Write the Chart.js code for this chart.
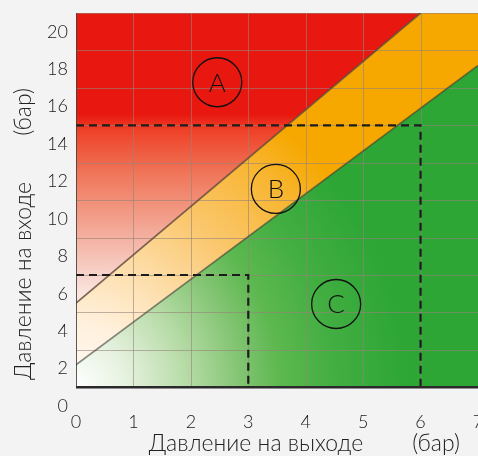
<!DOCTYPE html>
<html lang="ru">
<head>
<meta charset="UTF-8">
<title>Давление на входе / на выходе</title>
<script src="https://cdn.jsdelivr.net/npm/chart.js"></script>
<style>
    html, body {
        margin: 0;
        padding: 0;
        background: #f3f3f3;
        overflow: hidden;
    }
    /* canvas is a bit wider than the window so the "7" gets cut like in the scan */
    #wrap { width: 500px; height: 456px; }
    canvas { display: block; }
</style>
</head>
<body>
<div id="wrap"><canvas id="myChart" width="500" height="456"></canvas></div>
<script>
// axes
const xTicks = [0, 1, 2, 3, 4, 5, 6, 7];
const yTicks = [0, 2, 4, 6, 8, 10, 12, 14, 16, 18, 20];
const yGrid = [1, 3, 5, 7, 9, 11, 13, 15, 17, 19, 21];
const yBase = 1;
const yTop = 21;

// zone boundaries (outlet bar -> inlet bar)
const upperX = [0, 6];
const upperY = [5.5, 21];
const lowerX = [0, 7];
const lowerY = [2.2, 18.2];

// dashed guides
const guide1X = [0, 6, 6];
const guide1Y = [15, 15, 1];
const guide2X = [0, 3, 3];
const guide2Y = [7, 7, 1];

// zone markers
const zoneNames = ['A', 'B', 'C'];
const zoneX = [2.46, 3.48, 4.53];
const zoneY = [17.3, 11.6, 5.45];

const FONT = 'Lato, Roboto, "Liberation Sans", sans-serif';

function pts(xs, ys) {
    return xs.map((v, i) => ({ x: v, y: ys[i] }));
}

// white fade from the bottom-left corner
function fade(stops) {
    return function(context) {
        const chart = context.chart;
        if (!chart.chartArea) return stops[stops.length - 1][1];
        const sx = chart.scales.x, sy = chart.scales.y;
        const cx = sx.getPixelForValue(0);
        const cy = sy.getPixelForValue(yBase);
        const r = sx.getPixelForValue(5.75) - cx;
        const g = chart.ctx.createRadialGradient(cx, cy, 0, cx, cy, r);
        stops.forEach(s => g.addColorStop(s[0], s[1]));
        return g;
    };
}

// red zone fades downwards rather than from the corner
function redFade(context) {
    const chart = context.chart;
    if (!chart.chartArea) return '#e8170f';
    const sy = chart.scales.y;
    const g = chart.ctx.createLinearGradient(0, sy.getPixelForValue(15.6), 0, sy.getPixelForValue(5));
    g.addColorStop(0, '#e8170f');
    g.addColorStop(0.08, '#ee4128');
    g.addColorStop(0.3, '#f07659');
    g.addColorStop(0.5, '#f29a85');
    g.addColorStop(0.7, '#f5bfb2');
    g.addColorStop(0.86, '#f9dcd6');
    g.addColorStop(1, '#fdf3f1');
    return g;
}

const orangeFade = fade([[0, '#fffaf4'], [0.2, '#fff0dc'], [0.37, '#fde0b0'], [0.6, '#fbc870'], [0.86, '#f8b530'], [1, '#f6a800']]);
const greenFade = fade([[0, '#ffffff'], [0.15, '#e6f2e0'], [0.33, '#b8dca8'], [0.5, '#82c472'], [0.62, '#5cb84f'], [0.78, '#43ae42'], [1, '#2da636']]);

const upperFill = pts(upperX, upperY).concat([{ x: xTicks[xTicks.length - 1], y: yTop }]);

const GREEN_INDEX = 2;

// grid goes over the colour zones, but only inside the framed area
const gridPlugin = {
    id: 'zoneGrid',
    afterDatasetDraw(chart, args) {
        if (args.index !== GREEN_INDEX) return;
        const ctx = chart.ctx, sx = chart.scales.x, sy = chart.scales.y;
        const top = sy.getPixelForValue(yTop), bottom = sy.getPixelForValue(yBase);
        const left = sx.getPixelForValue(0), right = sx.getPixelForValue(7);
        ctx.save();
        ctx.strokeStyle = 'rgba(150, 130, 120, 0.6)';
        ctx.lineWidth = 1;
        xTicks.forEach(v => {
            const px = Math.round(sx.getPixelForValue(v)) + 0.5;
            ctx.beginPath();
            ctx.moveTo(px, top);
            ctx.lineTo(px, bottom);
            ctx.stroke();
        });
        yGrid.forEach(v => {
            const py = Math.round(sy.getPixelForValue(v)) + 0.5;
            ctx.beginPath();
            ctx.moveTo(left, py);
            ctx.lineTo(right, py);
            ctx.stroke();
        });
        ctx.restore();
    }
};

const textPlugin = {
    id: 'zoneText',
    afterDraw(chart) {
        const ctx = chart.ctx, sx = chart.scales.x, sy = chart.scales.y;
        ctx.save();
        ctx.fillStyle = '#111';
        ctx.textAlign = 'center';
        ctx.textBaseline = 'middle';
        ctx.font = '300 26px ' + FONT;
        zoneNames.forEach((n, i) => {
            ctx.fillText(n, sx.getPixelForValue(zoneX[i]), sy.getPixelForValue(zoneY[i]) + 1);
        });

        // axis titles
        ctx.fillStyle = '#222';
        ctx.textBaseline = 'alphabetic';
        ctx.font = '300 23px ' + FONT;
        ctx.fillText('Давление на выходе', 256, 451);
        ctx.fillText('(бар)', 436, 451);

        ctx.translate(31, 0);
        ctx.rotate(-Math.PI / 2);
        ctx.fillText('Давление на входе', -281, 0);
        ctx.fillText('(бар)', -112, 0);
        ctx.restore();
    }
};

const ctx = document.getElementById('myChart').getContext('2d');
const myChart = new Chart(ctx, {
    type: 'line',
    data: {
        datasets: [
            { data: upperFill, fill: 'end', backgroundColor: redFade, borderWidth: 0, pointRadius: 0, order: 10 },
            { data: upperFill, fill: { value: yBase }, backgroundColor: orangeFade, borderWidth: 0, pointRadius: 0, order: 9 },
            { data: pts(lowerX, lowerY), fill: { value: yBase }, backgroundColor: greenFade, borderWidth: 0, pointRadius: 0, order: 8 },
            { data: pts(upperX, upperY), borderColor: 'rgba(95, 70, 55, 0.8)', borderWidth: 1.8, pointRadius: 0, order: 6 },
            { data: pts(lowerX, lowerY), borderColor: 'rgba(60, 60, 55, 0.6)', borderWidth: 1.6, pointRadius: 0, order: 6 },
            { data: pts(guide1X, guide1Y), borderColor: '#1c1c1c', borderWidth: 2.2, borderDash: [8, 5], pointRadius: 0, order: 5 },
            { data: pts(guide2X, guide2Y), borderColor: '#1c1c1c', borderWidth: 2.2, borderDash: [8, 5], pointRadius: 0, order: 5 },
            { data: [{ x: 0, y: yTop }, { x: 0, y: yBase }], borderColor: 'rgba(50, 50, 50, 0.7)', borderWidth: 2, pointRadius: 0, order: 4 },
            { data: [{ x: 0, y: yBase }, { x: 7, y: yBase }], borderColor: '#2a2a2a', borderWidth: 2.5, pointRadius: 0, order: 4 },
            {
                data: pts(zoneX, zoneY), showLine: false,
                pointRadius: 24.5, pointBorderWidth: 1.3,
                pointBorderColor: '#111', pointBackgroundColor: 'rgba(0,0,0,0)',
                order: 1
            }
        ]
    },
    options: {
        responsive: false,
        animation: false,
        layout: { autoPadding: false, padding: { top: 13, right: 22, left: 0, bottom: 0 } },
        plugins: {
            legend: { display: false },
            tooltip: { enabled: false }
        },
        scales: {
            x: {
                type: 'linear',
                min: 0,
                max: 7,
                grid: { display: false, drawTicks: false },
                border: { display: false },
                afterBuildTicks: s => { s.ticks = xTicks.map(v => ({ value: v })); },
                afterFit: s => { s.height = 50; s.paddingLeft = 0; s.paddingRight = 0; },
                ticks: { padding: 5, color: '#1a1a1a', font: { family: FONT, size: 18, weight: 300 } }
            },
            y: {
                min: 0,
                max: yTop,
                grid: { display: false, drawTicks: false },
                border: { display: false },
                afterBuildTicks: s => { s.ticks = yTicks.map(v => ({ value: v })); },
                afterFit: s => { s.width = 76; s.paddingTop = 0; s.paddingBottom = 0; },
                ticks: { padding: 8, color: '#1a1a1a', font: { family: FONT, size: 18, weight: 300 } }
            }
        }
    },
    plugins: [gridPlugin, textPlugin]
});
</script>
</body>
</html>
